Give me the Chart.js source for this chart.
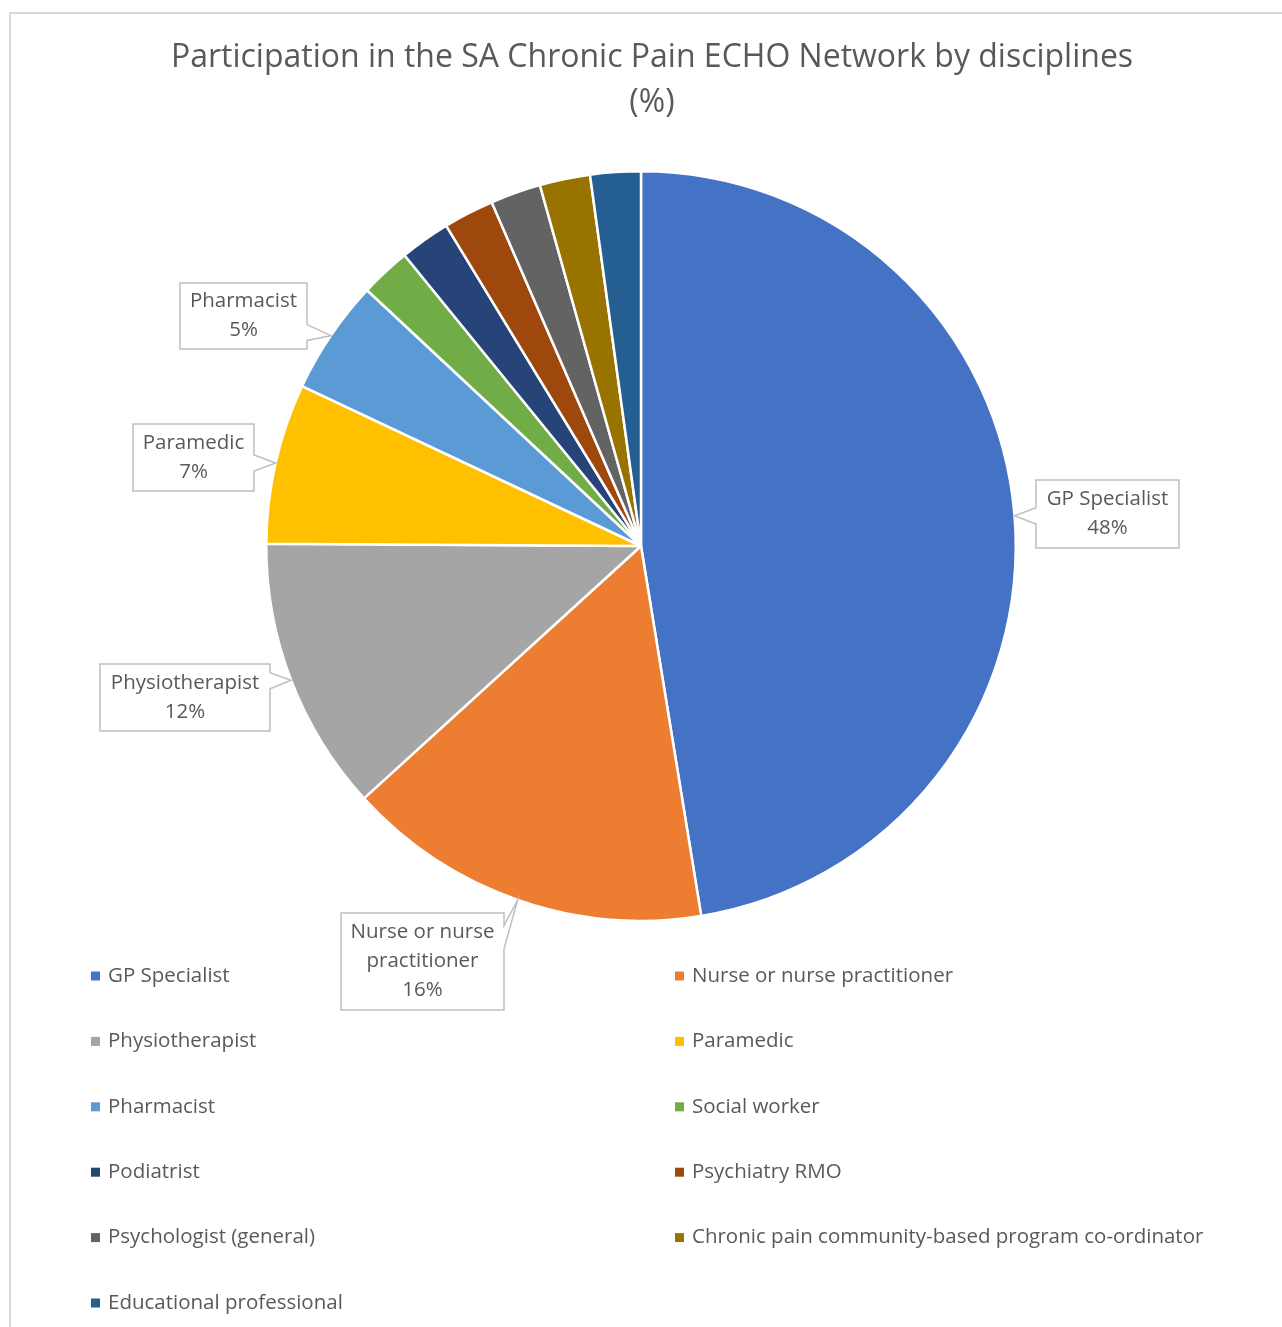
<!DOCTYPE html>
<html>
<head>
<meta charset="utf-8">
<title>Participation in the SA Chronic Pain ECHO Network by disciplines</title>
<script src="https://cdn.jsdelivr.net/npm/chart.js@4.4.0/dist/chart.umd.min.js"></script>
<style>
  html, body { margin: 0; padding: 0; background: #fff; }
  #wrap { width: 1282px; height: 1327px; position: relative; }
</style>
</head>
<body>
<div id="wrap"><canvas id="graficoDisciplinas"></canvas></div>
<script>
// Dados do gráfico (percentual por disciplina)
const disciplinas = [
    'GP Specialist',
    'Nurse or nurse practitioner',
    'Physiotherapist',
    'Paramedic',
    'Pharmacist',
    'Social worker',
    'Podiatrist',
    'Psychiatry RMO',
    'Psychologist (general)',
    'Chronic pain community-based program co-ordinator',
    'Educational professional'
];
const percentuais = [48, 16, 12, 7, 5, 2.2, 2.2, 2.2, 2.2, 2.2, 2.2];
const cores = [
    '#4472C4', '#ED7D31', '#A5A5A5', '#FFC000', '#5B9BD5', '#70AD47',
    '#264478', '#9E480E', '#636363', '#997300', '#255E91'
];
const tituloLinhas = ['Participation in the SA Chronic Pain ECHO Network by disciplines', '(%)'];

const FONTE = '"Open Sans", "Noto Sans", sans-serif';
const COR_TEXTO = '#595959';

// Caixas dos rótulos (índice da fatia + retângulo)
const caixasRotulos = [
    { i: 0, x: 1036, y: 480, w: 143, h: 68 },
    { i: 1, x: 341, y: 913, w: 163, h: 97 },
    { i: 2, x: 100, y: 664, w: 170, h: 67 },
    { i: 3, x: 133, y: 424, w: 121, h: 67 },
    { i: 4, x: 180, y: 283, w: 127, h: 66 }
];

// Quebra o texto em linhas que cabem na largura
function quebrarTexto(ctx, texto, largura) {
    const palavras = texto.split(' ');
    const linhas = [];
    let atual = '';
    palavras.forEach(p => {
        const teste = atual ? atual + ' ' + p : p;
        if (ctx.measureText(teste).width > largura && atual) {
            linhas.push(atual);
            atual = p;
        } else {
            atual = teste;
        }
    });
    if (atual) linhas.push(atual);
    return linhas;
}

// Desenha a caixa com a "seta" apontando para a fatia
function desenharCaixa(ctx, c, ponta) {
    const x0 = c.x, y0 = c.y, x1 = c.x + c.w, y1 = c.y + c.h;
    const clamp = (v, a, b) => Math.max(a, Math.min(b, v));
    const pts = [];
    if (ponta.x > x1) {
        const m = clamp(ponta.y, y0 + c.h * 0.25, y1 - c.h * 0.25), d = c.h * 0.12;
        pts.push([x0, y0], [x1, y0], [x1, m - d], [ponta.x, ponta.y], [x1, m + d], [x1, y1], [x0, y1]);
    } else if (ponta.x < x0) {
        const m = clamp(ponta.y, y0 + c.h * 0.25, y1 - c.h * 0.25), d = c.h * 0.12;
        pts.push([x0, y0], [x1, y0], [x1, y1], [x0, y1], [x0, m + d], [ponta.x, ponta.y], [x0, m - d]);
    } else if (ponta.y < y0) {
        const m = clamp(ponta.x, x0 + c.w * 0.25, x1 - c.w * 0.25), d = c.w * 0.12;
        pts.push([x0, y0], [m - d, y0], [ponta.x, ponta.y], [m + d, y0], [x1, y0], [x1, y1], [x0, y1]);
    } else {
        const m = clamp(ponta.x, x0 + c.w * 0.25, x1 - c.w * 0.25), d = c.w * 0.12;
        pts.push([x0, y0], [x1, y0], [x1, y1], [m + d, y1], [ponta.x, ponta.y], [m - d, y1], [x0, y1]);
    }
    ctx.beginPath();
    pts.forEach((p, k) => k ? ctx.lineTo(p[0], p[1]) : ctx.moveTo(p[0], p[1]));
    ctx.closePath();
    ctx.fillStyle = '#ffffff';
    ctx.fill();
    ctx.strokeStyle = '#BFBFBF';
    ctx.lineWidth = 1.5;
    ctx.stroke();
}

// Plugin: moldura, título, rótulos e legenda
const pluginExtras = {
    id: 'extras',
    beforeDraw(chart) {
        const ctx = chart.ctx;
        ctx.save();
        ctx.strokeStyle = '#D9D9D9';
        ctx.lineWidth = 2;
        ctx.beginPath();
        ctx.moveTo(10, chart.height);
        ctx.lineTo(10, 13);
        ctx.lineTo(chart.width, 13);
        ctx.stroke();

        ctx.fillStyle = COR_TEXTO;
        ctx.font = '32px ' + FONTE;
        ctx.textAlign = 'center';
        ctx.textBaseline = 'middle';
        tituloLinhas.forEach((t, k) => ctx.fillText(t, 652, 58 + k * 45));
        ctx.restore();
    },
    afterDraw(chart) {
        const ctx = chart.ctx;
        const arcos = chart.getDatasetMeta(0).data;
        ctx.save();

        caixasRotulos.forEach(c => {
            const a = arcos[c.i];
            const meio = (a.startAngle + a.endAngle) / 2;
            const ponta = { x: a.x + Math.cos(meio) * a.outerRadius, y: a.y + Math.sin(meio) * a.outerRadius };
            desenharCaixa(ctx, c, ponta);

            ctx.font = '20.5px ' + FONTE;
            const linhas = quebrarTexto(ctx, disciplinas[c.i], c.w - 8);
            linhas.push(percentuais[c.i] + '%');
            const alt = 29;
            const yIni = c.y + c.h / 2 - (linhas.length - 1) * alt / 2;
            ctx.fillStyle = COR_TEXTO;
            ctx.textAlign = 'center';
            ctx.textBaseline = 'middle';
            linhas.forEach((l, k) => ctx.fillText(l, c.x + c.w / 2, yIni + k * alt));
        });

        // Legenda em duas colunas
        ctx.font = '20.5px ' + FONTE;
        ctx.textAlign = 'left';
        ctx.textBaseline = 'middle';
        disciplinas.forEach((nome, k) => {
            const col = k % 2, lin = Math.floor(k / 2);
            const x = col ? 675 : 91;
            const y = 976 + lin * 65.4;
            ctx.fillStyle = cores[k];
            ctx.fillRect(x, y - 4.5, 9, 9);
            ctx.fillStyle = COR_TEXTO;
            ctx.fillText(nome, x + 17, y);
        });
        ctx.restore();
    }
};

new Chart(document.getElementById('graficoDisciplinas'), {
    type: 'pie',
    data: {
        labels: disciplinas,
        datasets: [{
            data: percentuais,
            backgroundColor: cores,
            borderColor: '#ffffff',
            borderWidth: 2.5
        }]
    },
    options: {
        responsive: true,
        maintainAspectRatio: false,
        animation: false,
        layout: { padding: { top: 170, bottom: 405, left: 265, right: 265 } },
        plugins: {
            legend: { display: false },
            tooltip: { enabled: false }
        }
    },
    plugins: [pluginExtras]
});
</script>
</body>
</html>
